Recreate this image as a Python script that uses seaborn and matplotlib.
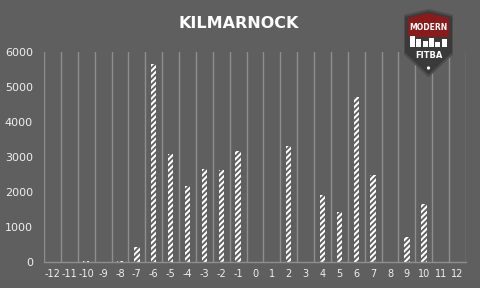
import matplotlib
matplotlib.use("Agg")
import matplotlib.pyplot as plt
import seaborn as sns
import pandas as pd
from matplotlib.patches import Polygon, Rectangle, Circle

categories = [str(i) for i in range(-12, 13)]
values = [0, 0, 20, 0, 15, 430, 5650, 3080, 2170, 2650, 2620, 3170,
          0, 0, 3310, 0, 1910, 1430, 4720, 2480, 0, 710, 1650, 0, 0]
y_ticks = [0, 1000, 2000, 3000, 4000, 5000, 6000]
title = "KILMARNOCK"

bg = "#5f5f5f"
grid_c = "#8e8e8e"
text_c = "#f0f0f0"

sns.set_style("dark")
plt.rcParams["font.family"] = ["DejaVu Sans"]
plt.rcParams["hatch.linewidth"] = 1.5

df = pd.DataFrame({"cat": categories, "val": values})

fig = plt.figure(figsize=(4.8, 2.88), dpi=100, facecolor=bg)
ax = fig.add_axes([44/480, 1-262/288, 422/480, (262-51.7)/288])
ax.set_facecolor(bg)

sns.barplot(data=df, x="cat", y="val", order=categories, ax=ax,
            color=bg, saturation=1, width=0.32, edgecolor="white",
            hatch="//////", linewidth=0)

ax.set_xlim(-0.5, len(categories) - 0.5)
ax.set_ylim(0, 6000)
ax.set_yticks(y_ticks)
ax.set_yticklabels([str(t) for t in y_ticks])
ax.set_xticks(range(len(categories)))
ax.set_xticklabels(categories)
ax.set_xticks([i - 0.5 for i in range(len(categories) + 1)], minor=True)
ax.grid(False)
ax.grid(True, which="minor", axis="x", color=grid_c, linewidth=1.0)
ax.set_axisbelow(True)
ax.set_xlabel("")
ax.set_ylabel("")
for s in ["top", "right", "left"]:
    ax.spines[s].set_visible(False)
ax.spines["bottom"].set_color(grid_c)
ax.spines["bottom"].set_linewidth(1.0)
ax.tick_params(axis="both", which="both", length=0, colors=text_c)
ax.tick_params(axis="y", pad=8, labelsize=8)
ax.tick_params(axis="x", pad=5, labelsize=7)

fig.text(238.5/480, 1-23/288, title, ha="center", va="center",
         fontsize=11.5, fontweight="bold", color="white")

# logo
lg = fig.add_axes([404/480, 1-77/288, 49/480, 68/288])
lg.set_xlim(0, 49)
lg.set_ylim(0, 68)
lg.axis("off")
lg.add_patch(Polygon([(0, 61), (24.5, 67), (49, 61), (49, 24), (24.5, 1), (0, 24)],
                     closed=True, facecolor="#3a3a3a", edgecolor="#4d4d4d", linewidth=1.5))
lg.add_patch(Polygon([(4, 59), (24.5, 64), (45, 59), (45, 40), (4, 40)],
                     closed=True, facecolor="#8b1a1a", edgecolor="none"))
lg.text(24.5, 49, "MODERN", ha="center", va="center", fontsize=5.5,
        fontweight="bold", color="white")
for i, h in enumerate([12, 9, 7, 10, 6, 9]):
    lg.add_patch(Rectangle((6 + i * 6.3, 30), 5, h - 1, facecolor="white", edgecolor="none"))
lg.text(24.5, 21, "FITBA", ha="center", va="center", fontsize=6,
        fontweight="bold", color="white")
lg.add_patch(Circle((24.5, 9), 1.6, facecolor="white", edgecolor="none"))

fig.savefig("out.png", dpi=100, facecolor=bg)
